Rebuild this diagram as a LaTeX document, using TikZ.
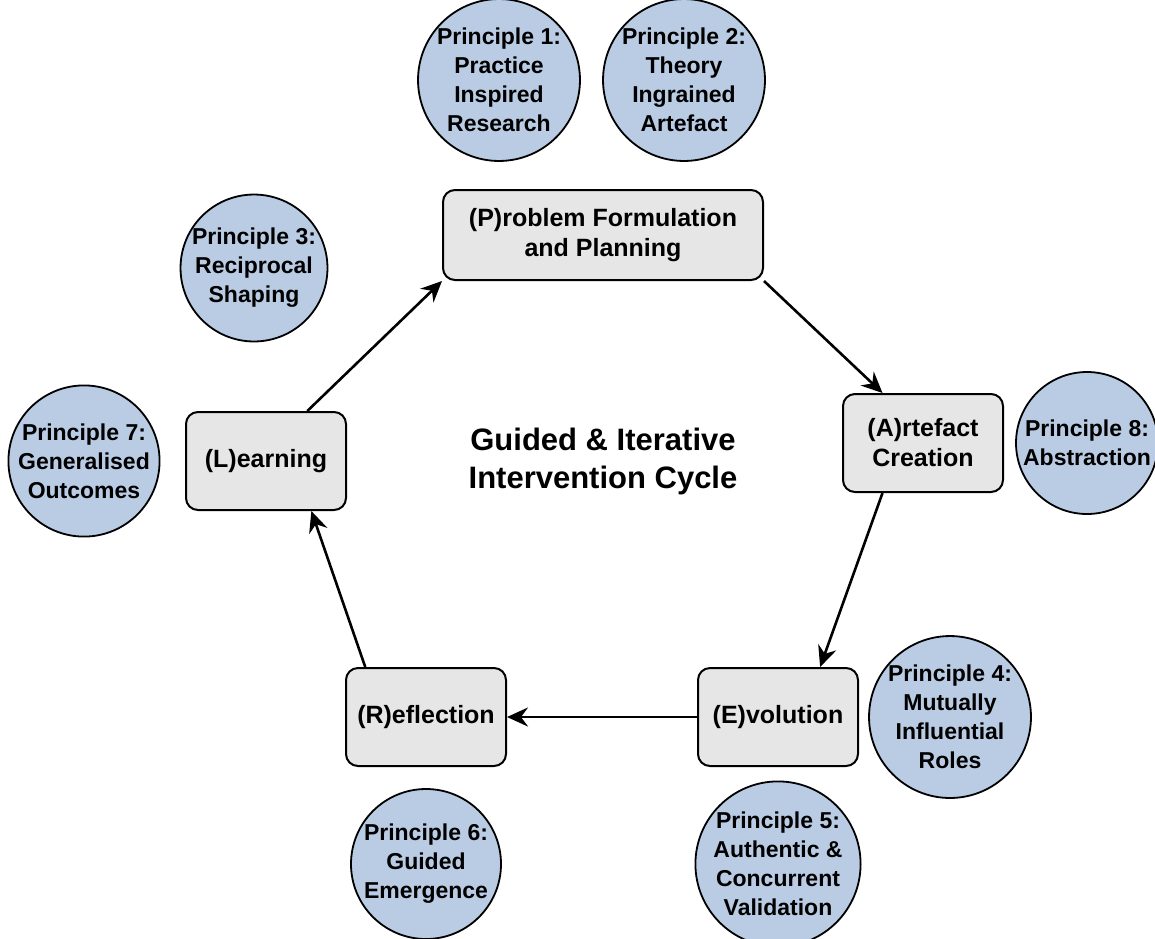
\documentclass[tikz,border=0pt]{standalone}
\usepackage{fontspec}
\setmainfont{Liberation Sans}
\usetikzlibrary{arrows.meta,calc}
\definecolor{stagefill}{HTML}{E6E6E6}
\definecolor{principlefill}{HTML}{B9CCE4}
\tikzset{
  stage/.style={draw=black, line width=2pt, fill=stagefill, rounded corners=12pt,
    minimum width=160pt, minimum height=98pt, align=center, inner sep=2pt,
    font=\fontsize{25}{30}\selectfont\bfseries},
  principle/.style={draw=black, line width=1.8pt, fill=principlefill, circle,
    minimum size=150pt, inner sep=0pt, align=center,
    font=\fontsize{23}{29}\selectfont\bfseries},
  flow/.style={line width=2.6pt, -{Stealth[length=21pt,width=19pt,inset=7pt]}},
  heading/.style={align=center, font=\fontsize{31}{38}\selectfont\bfseries}
}
\begin{document}
\begin{tikzpicture}[x=1pt,y=-1pt]
\useasboundingbox (0,0) rectangle (1155,938);

% stages of the cycle
\node[stage, minimum width=320pt, minimum height=90pt] (P) at (603,235) {(P)roblem Formulation\\and Planning};
\node[stage] (A) at (923,443) {(A)rtefact\\Creation};
\node[stage] (E) at (778,717) {(E)volution};
\node[stage] (R) at (426,717) {(R)eflection};
\node[stage] (L) at (266,461) {(L)earning};

% centre caption
\node[heading] (title) at (603,461) {Guided \& Iterative\\Intervention Cycle};

% principles
\node[principle] (p1) at (499,80) {Principle 1:\\Practice\\Inspired\\Research};
\node[principle] (p2) at (684,80) {Principle 2:\\Theory\\Ingrained\\Artefact};
\node[principle, minimum size=142pt] (p3) at (254,268) {Principle 3:\\Reciprocal\\Shaping};
\node[principle] (p4) at (950,717) {Principle 4:\\Mutually\\Influential\\Roles};
\node[principle] (p5) at (778,864) {Principle 5:\\Authentic \&\\Concurrent\\Validation};
\node[principle] (p6) at (426,864) {Principle 6:\\Guided\\Emergence};
\node[principle] (p7) at (84,461) {Principle 7:\\Generalised\\Outcomes};
\node[principle, minimum size=142pt] (p8) at (1087,443) {Principle 8:\\Abstraction};

% cycle connectors
\draw[flow] ($(L.north)!0.51!(L.north east)$) -- (P.south west);
\draw[flow] (P.south east) -- ($(A.north west)!0.5!(A.north)$);
\draw[flow] ($(A.south west)!0.5!(A.south)$) -- ($(E.north)!0.52!(E.north east)$);
\draw[flow] (E.west) -- (R.east);
\draw[flow] ($(R.north west)!0.25!(R.north)$) -- ($(L.south)!0.56!(L.south east)$);
\end{tikzpicture}
\end{document}
